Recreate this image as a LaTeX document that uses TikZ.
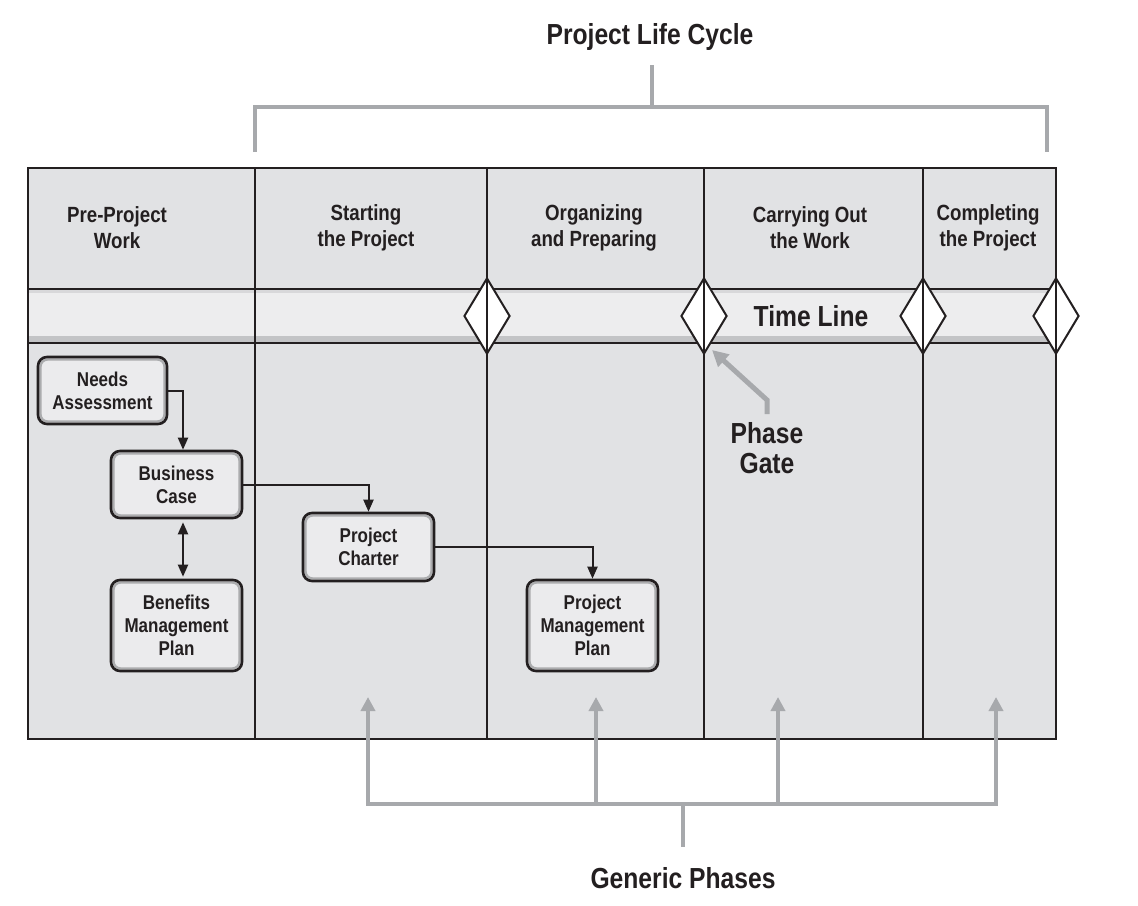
\documentclass[tikz,border=0pt]{standalone}
\usepackage{fontspec}
\setmainfont{Liberation Sans}[FakeStretch=0.85]
\usepackage{tikz}
\usetikzlibrary{arrows.meta,shapes.geometric}

\definecolor{ink}{HTML}{231F20}
\definecolor{cellgray}{HTML}{E1E2E4}
\definecolor{bandgray}{HTML}{EDEDEE}
\definecolor{bandshade}{HTML}{C3C4C6}
\definecolor{boxfill}{HTML}{EBEBED}
\definecolor{ringgray}{HTML}{ABACAE}
\definecolor{bracketgray}{HTML}{A7A9AC}

\newcommand{\phasefont}{\bfseries\fontsize{22bp}{26bp}\selectfont}
\newcommand{\boxtextfont}{\bfseries\fontsize{20bp}{23bp}\selectfont}
\newcommand{\tagfont}{\bfseries\fontsize{29bp}{30bp}\selectfont}

\tikzset{
  rule/.style={draw=ink,line width=2bp},
  gate/.style={draw=ink,line width=2bp,fill=white,diamond,inner sep=0pt,minimum width=46bp,minimum height=76bp},
  phase/.style={align=center,font=\phasefont,text=ink,inner sep=0pt},
  tag/.style={align=center,font=\tagfont,text=ink,inner sep=0pt},
  box/.style={draw=ink,line width=2.6bp,rounded corners=9bp,fill=boxfill,align=center,
    font=\boxtextfont,text=ink,inner sep=0pt,minimum width=130bp,minimum height=67bp,
    path picture={\draw[ringgray,line width=2.4bp,rounded corners=7bp]
      ([shift={(2.5bp,-2.5bp)}]path picture bounding box.north west) rectangle
      ([shift={(-2.5bp,2.5bp)}]path picture bounding box.south east);}},
  flow/.style={draw=ink,line width=2bp,-{Triangle[length=12bp,width=10bp]}},
  both/.style={draw=ink,line width=2bp,{Triangle[length=12bp,width=10bp]}-{Triangle[length=12bp,width=10bp]},shorten <=3bp,shorten >=2bp},
  bracket/.style={draw=bracketgray,line width=4.5bp},
  up/.style={bracket,-{Triangle[length=14bp,width=14bp]}}
}

\begin{document}
\begin{tikzpicture}
\useasboundingbox (0bp,0bp) rectangle (1138bp,-906bp);

% table background
\fill[cellgray] (28bp,-168bp) rectangle (1056bp,-739bp);
\fill[bandgray] (28bp,-289bp) rectangle (1056bp,-343bp);
\fill[bandshade] (28bp,-336bp) rectangle (1056bp,-343bp);
\fill[bandshade!50!bandgray] (28bp,-289bp) rectangle (1056bp,-293bp);
\draw[rule] (28bp,-168bp) rectangle (1056bp,-739bp);
\draw[rule] (28bp,-289bp) -- (1056bp,-289bp);
\draw[rule] (28bp,-343bp) -- (1056bp,-343bp);

% phase gates
\node (G1) at (487bp,-316bp)[gate] {};
\node (G2) at (704bp,-316bp)[gate] {};
\node (G3) at (923bp,-316bp)[gate] {};
\node (G4) at (1056bp,-316bp)[gate] {};
\foreach \x in {255,487,704,923,1056}
  \draw[rule] (\x bp,-168bp) -- (\x bp,-739bp);

% column heads
\node (H1) at (117bp,-228bp)[phase] {Pre-Project\\Work};
\node (H2) at (366bp,-228bp)[phase] {Starting\\the Project};
\node (H3) at (594bp,-228bp)[phase] {Organizing\\and Preparing};
\node (H4) at (810bp,-228bp)[phase] {Carrying Out\\the Work};
\node (H5) at (988bp,-228bp)[phase] {Completing\\the Project};
\node (TL) at (811bp,-316bp)[tag] {Time Line};

% documents
\node (NA) at (102.5bp,-390.5bp)[box,minimum width=129bp] {Needs\\Assessment};
\node (BC) at (176.5bp,-484.5bp)[box,minimum width=131bp] {Business\\Case};
\node (BMP) at (176.5bp,-625.5bp)[box,minimum width=131bp,minimum height=91bp] {Benefits\\Management\\Plan};
\node (PC) at (368.5bp,-547bp)[box,minimum width=131bp,minimum height=68bp] {Project\\Charter};
\node (PMP) at (592.5bp,-625.5bp)[box,minimum width=131bp,minimum height=91bp] {Project\\Management\\Plan};

\draw[flow] (NA.east) -| ([xshift=6.5bp]BC.north);
\draw[both] ([xshift=6.5bp]BC.south) -- ([xshift=6.5bp]BMP.north);
\draw[flow] (BC.east) -| (PC.north);
\draw[flow] (PC.east) -| (PMP.north);

% phase gate label
\node (PG) at (767bp,-448bp)[tag] {Phase\\Gate};
\coordinate (pgTip) at (712bp,-350bp);
\draw[bracket,line width=5bp,-{Triangle[length=16bp,width=16bp]}] (767bp,-414bp) -- (767bp,-400bp) -- (pgTip);

% life cycle bracket
\node (LC) at (650bp,-37bp)[tag] {Project Life Cycle};
\coordinate (lcL) at (255bp,-152bp);
\coordinate (lcR) at (1047bp,-152bp);
\draw[bracket] (lcL) -- (255bp,-107bp) -- (1047bp,-107bp) -- (lcR);
\draw[bracket] (652bp,-65bp) -- (652bp,-107bp);

% generic phases bracket
\node (GP) at (683bp,-878bp)[tag] {Generic Phases};
\draw[bracket,line cap=rect] (368bp,-804bp) -- (996bp,-804bp);
\foreach \x in {368,596,778,996}
  \draw[up] (\x bp,-804bp) -- (\x bp,-697bp);
\draw[bracket] (683bp,-804bp) -- (683bp,-847bp);
\end{tikzpicture}
\end{document}
